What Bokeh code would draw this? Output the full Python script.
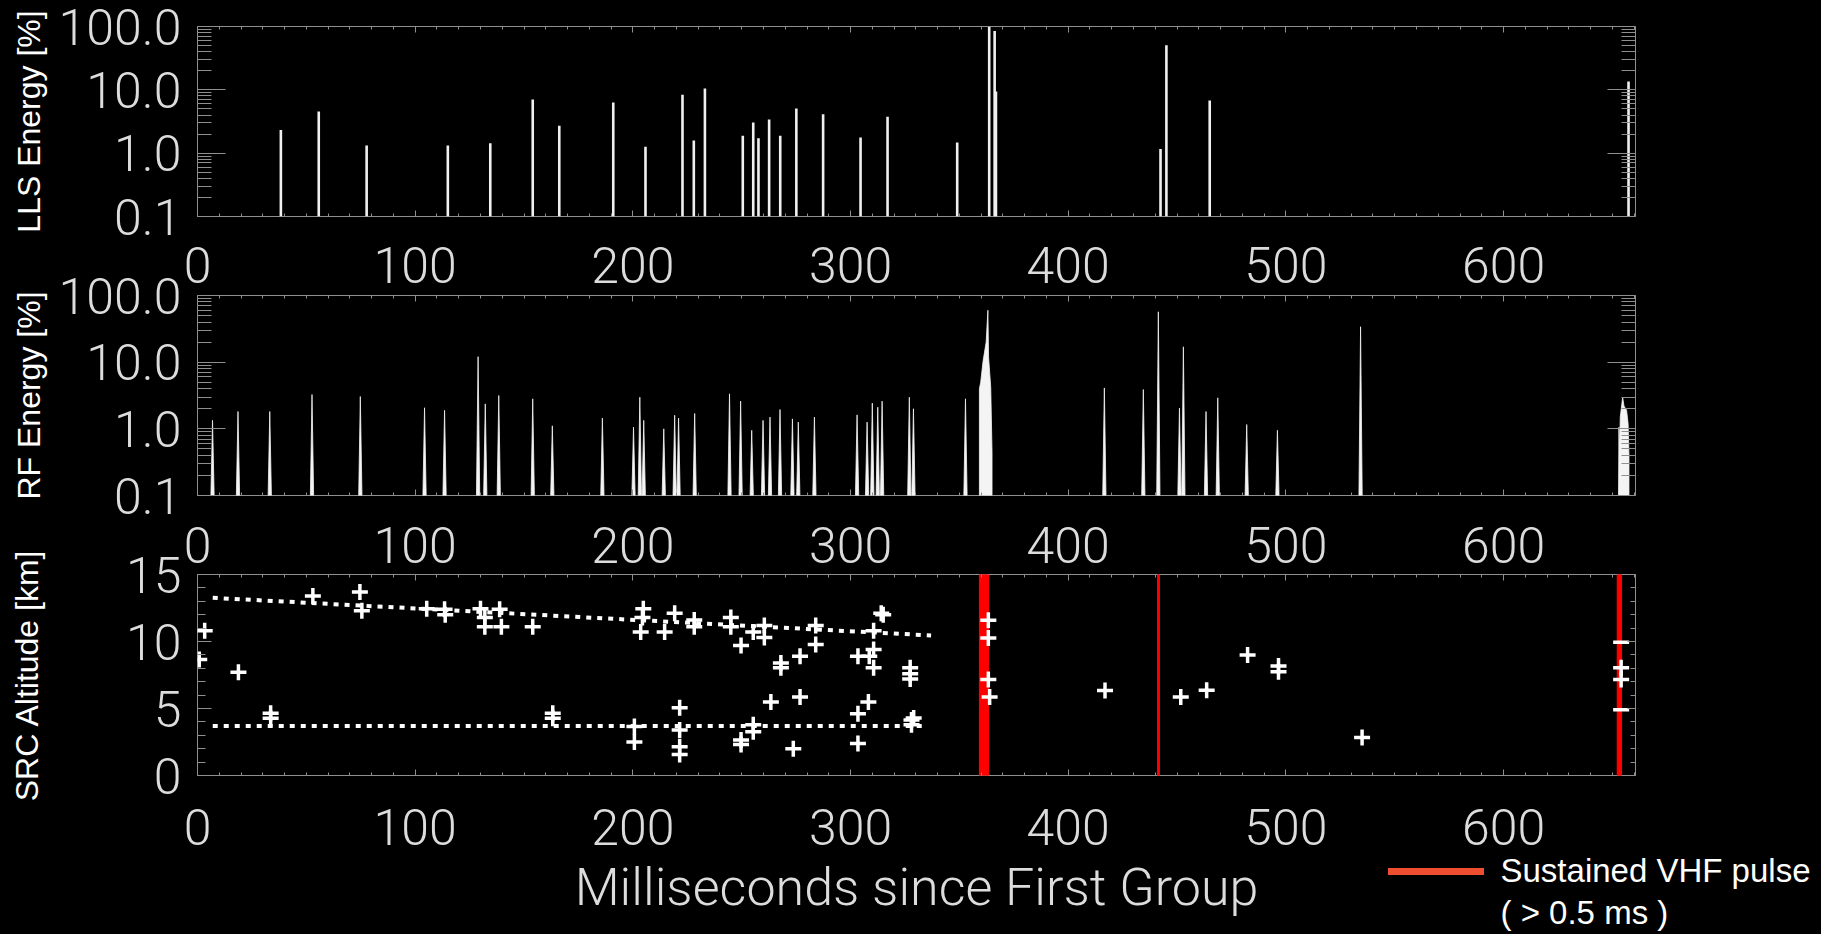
import html
from bokeh.plotting import figure
from bokeh.layouts import column
from bokeh.models import (Range1d, LinearAxis, LogAxis, FixedTicker, BoxAnnotation,
                          CustomJSTickFormatter, GlobalInlineStyleSheet, Div)
from bokeh.embed import file_html
from bokeh.resources import INLINE

# ---------------- data ----------------
x_tick_ms = [0, 100, 200, 300, 400, 500, 600]
energy_ticks = [0.1, 1, 10, 100]
energy_tick_labels = ["0.1", "1.0", "10.0", "100.0"]
alt_ticks = [0, 5, 10, 15]
alt_tick_labels = ["0", "5", "10", "15"]

# LLS energy (% of max) per stroke
lls_ms = [38.3, 55.7, 77.7, 115.0, 134.5, 154.0, 166.2, 191.0, 205.8, 222.8,
          228.0, 233.1, 250.5, 255.3, 257.7, 262.6, 267.7, 275.1, 287.4, 304.6,
          317.0, 349.0, 363.7, 366.2, 366.8, 442.4, 445.1, 465.0, 657.4]
lls_pct = [2.32, 4.56, 1.32, 1.32, 1.43, 7.06, 2.72, 6.3, 1.26, 8.4,
           1.59, 10.5, 1.89, 3.05, 1.72, 3.39, 1.89, 5.06, 4.11, 1.76,
           3.75, 1.48, 99.0, 85.0, 9.4, 1.16, 50.8, 6.8, 13.6]

# RF energy (% of max) per VHF pulse
rf_ms = [6.9, 18.6, 33.2, 52.6, 74.8, 104.3, 113.5, 128.9, 132.2, 138.4,
         154.0, 163.0, 186.0, 200.3, 203.2, 205.0, 214.2, 219.2, 221.0, 228.4,
         244.4, 249.5, 254.6, 259.8, 263.0, 267.6, 273.3, 276.0, 283.4, 303.0,
         307.6, 310.0, 312.5, 314.5, 327.0, 328.9, 352.8, 416.6, 434.5, 441.4,
         451.1, 452.9, 463.3, 468.7, 482.0, 496.1, 534.3]
rf_pct = [1.34, 1.82, 1.82, 3.27, 3.05, 2.07, 1.89, 12.1, 2.37, 3.16,
          2.82, 1.11, 1.45, 1.06, 2.98, 1.34, 1.0, 1.6, 1.45, 1.7,
          3.35, 2.6, 0.95, 1.34, 1.5, 1.95, 1.41, 1.26, 1.5, 1.62,
          1.26, 2.43, 2.11, 2.6, 2.98, 2.0, 2.82, 4.11, 3.89, 57.0,
          2.04, 17.0, 1.82, 2.92, 1.16, 0.95, 34.0]

# sustained RF bursts (envelope)
rf_burst1_ms = [359.2, 359.2, 359.8, 360.9, 362.3, 363.1, 363.4, 364.4, 365.0, 365.0]
rf_burst1_pct = [0.1, 4.0, 5.0, 10.5, 20.0, 60.0, 12.0, 4.2, 0.45, 0.1]
rf_burst2_ms = [652.8, 653.0, 653.3, 653.6, 654.7, 655.3, 656.5, 657.2, 657.6, 657.6]
rf_burst2_pct = [0.1, 1.06, 0.5, 1.5, 2.98, 2.2, 1.9, 1.2, 0.4, 0.1]

# source altitudes
src_ms = [3.3, 0.8, 18.8, 33.6, 33.6, 53.0, 74.6, 75.5, 105.3, 113.5,
          113.8, 130.0, 132.0, 132.0, 138.8, 139.6, 154.0, 163.2, 163.2, 200.7,
          200.7, 204.8, 204.4, 203.6, 214.6, 219.2, 221.5, 221.5, 221.5, 221.5,
          228.2, 228.2, 245.0, 245.0, 249.7, 255.3, 260.4, 260.4, 268.0, 268.0,
          276.8, 284.0, 284.0, 303.4, 308.6, 310.6, 310.6, 310.6, 314.1, 315.0,
          327.4, 327.4, 327.4, 249.7, 249.7, 255.3, 255.3, 263.4, 273.7, 276.8,
          303.4, 303.4, 308.2, 328.0, 328.0, 329.0, 363.3, 363.3, 363.3, 363.9,
          416.9, 451.7, 463.6, 482.4, 496.6, 496.6, 535.0, 654.0, 654.0]
src_km = [10.8, 8.65, 7.7, 4.65, 4.27, 13.4, 13.7, 12.3, 12.45, 12.4,
          12.0, 12.45, 11.8, 11.1, 12.4, 11.1, 11.1, 4.65, 4.27, 3.65,
          2.5, 12.45, 11.8, 10.7, 10.7, 12.1, 5.05, 3.4, 2.14, 1.56,
          11.6, 11.1, 11.8, 11.1, 9.7, 10.7, 11.2, 10.3, 8.4, 8.05,
          8.9, 11.2, 9.77, 8.9, 8.9, 10.8, 9.4, 8.05, 12.1, 12.0,
          8.05, 7.6, 7.2, 2.64, 2.31, 3.78, 3.27, 5.48, 2.0, 5.86,
          4.6, 2.39, 5.48, 4.15, 3.78, 4.3, 11.58, 10.27, 7.17, 5.86,
          6.34, 5.86, 6.37, 8.99, 8.18, 7.75, 2.84, 8.05, 7.17]
src_edge_ms = [654.0, 654.0]
src_edge_km = [9.94, 4.9]

# altitude trend lines
trend_hi_ms = [7.0, 337.0]
trend_hi_km = [13.26, 10.45]
trend_lo_ms = [7.0, 333.0]
trend_lo_km = [3.7, 3.7]

# sustained VHF pulses (> 0.5 ms)
vhf_start_ms = [359.2, 441.0, 652.2]
vhf_end_ms = [363.4, 441.9, 654.2]

legend_texts = ["Sustained VHF pulse", "( > 0.5 ms )"]

# ---------------- style ----------------
BG = "#000000"
AXIS_GRAY = "#8f8f8f"
LABEL_GRAY = "#dcdcdc"
THIN_FONT = "Roboto Light, Lato Light, Roboto"
SANS = "Liberation Sans"
TICK_SIZE = "50px"
W = 1816
X_MAX = 660.6
LEFT, RIGHT = 197, W - 1635

x_minor = list(range(0, 661, 10))
log_minor = [m * 10.0 ** k for k in (-1, 0, 1) for m in range(2, 10)]
alt_minor = list(range(0, 16))
blank = CustomJSTickFormatter(code="return ''")


def base_fig(height, top, bottom, y_range, log, margin):
    p = figure(width=W, height=height, x_range=Range1d(0, X_MAX), y_range=y_range,
               y_axis_type="log" if log else "linear", output_backend="svg",
               toolbar_location=None, min_border_left=LEFT, min_border_right=RIGHT,
               min_border_top=top, min_border_bottom=bottom,
               background_fill_color=BG, border_fill_color=BG, border_fill_alpha=0.0,
               outline_line_color=AXIS_GRAY, outline_line_width=1)
    p.margin = margin
    p.grid.visible = False
    return p


def tick_style(ax, major_in, minor_in):
    ax.axis_line_color = None
    ax.major_tick_line_color = AXIS_GRAY
    ax.minor_tick_line_color = AXIS_GRAY
    ax.major_tick_in = major_in
    ax.major_tick_out = 0
    ax.minor_tick_in = minor_in
    ax.minor_tick_out = 0


def hidden_labels(ax):
    ax.formatter = blank
    ax.major_label_text_font_size = "1px"
    ax.major_label_standoff = 0


def style_x(p, standoff):
    ax = p.xaxis[0]
    ax.ticker = FixedTicker(ticks=x_tick_ms, minor_ticks=x_minor)
    tick_style(ax, 6, 3)
    ax.major_label_text_font = THIN_FONT
    ax.major_label_text_font_size = TICK_SIZE
    ax.major_label_text_color = LABEL_GRAY
    ax.major_label_standoff = standoff
    top = LinearAxis(ticker=FixedTicker(ticks=x_tick_ms, minor_ticks=x_minor))
    tick_style(top, 6, 3)
    hidden_labels(top)
    p.add_layout(top, "above")
    return ax


def style_y(p, ticks, labels, minor, title, title_standoff, major_in, minor_in,
            r_major, r_minor, log):
    ax = p.yaxis[0]
    ax.ticker = FixedTicker(ticks=ticks, minor_ticks=minor)
    ax.major_label_overrides = dict(zip(ticks, labels))
    tick_style(ax, major_in, minor_in)
    ax.major_label_text_font = THIN_FONT
    ax.major_label_text_font_size = TICK_SIZE
    ax.major_label_text_color = LABEL_GRAY
    ax.major_label_standoff = 16
    ax.axis_label = title
    ax.axis_label_text_font = SANS
    ax.axis_label_text_font_size = "32px"
    ax.axis_label_text_font_style = "normal"
    ax.axis_label_text_color = "white"
    ax.axis_label_standoff = title_standoff
    right = (LogAxis if log else LinearAxis)(ticker=FixedTicker(ticks=ticks, minor_ticks=minor))
    tick_style(right, r_major, r_minor)
    hidden_labels(right)
    p.add_layout(right, "right")
    return ax


# ---------------- panel 1: LLS energy ----------------
p1 = base_fig(304, 26, 88, Range1d(energy_ticks[0], energy_ticks[-1]), True, (0, 0, 0, 0))
style_x(p1, 30)
style_y(p1, energy_ticks, energy_tick_labels, log_minor, "LLS Energy [%]", 9, 28, 14, 28, 14, True)
p1.segment(x0=lls_ms, y0=[energy_ticks[0]] * len(lls_ms), x1=lls_ms, y1=lls_pct,
           line_color="#f0f0f0", line_width=2.6)

# ---------------- panel 2: RF energy ----------------
p2 = base_fig(320, 32, 88, Range1d(energy_ticks[0], energy_ticks[-1]), True, (-41, 0, 0, 0))
style_x(p2, 31)
style_y(p2, energy_ticks, energy_tick_labels, log_minor, "RF Energy [%]", 9, 28, 14, 28, 14, True)
SPIKE_HALF = 0.75
rf_xs = [[t - SPIKE_HALF, t, t + SPIKE_HALF] for t in rf_ms]
rf_ys = [[energy_ticks[0], v, energy_ticks[0]] for v in rf_pct]
p2.patches(rf_xs, rf_ys, fill_color="#f4f4f4", line_color="#f4f4f4", line_width=0.8)
p2.patch(rf_burst1_ms, rf_burst1_pct, fill_color="#f4f4f4", line_color="#f4f4f4", line_width=0.8)
p2.patch(rf_burst2_ms, rf_burst2_pct, fill_color="#f4f4f4", line_color="#f4f4f4", line_width=0.8)

# ---------------- panel 3: source altitude ----------------
p3 = base_fig(385, 32, 152, Range1d(alt_ticks[0], alt_ticks[-1]), False, (-41, 0, 0, 0))
ax3 = style_x(p3, 33)
style_y(p3, alt_ticks, alt_tick_labels, alt_minor, "SRC Altitude [km]", 78, 14, 8, 8, 5, False)
ax3.axis_label = "Milliseconds since First Group"
ax3.axis_label_text_font = THIN_FONT
ax3.axis_label_text_font_size = "52px"
ax3.axis_label_text_font_style = "normal"
ax3.axis_label_text_color = LABEL_GRAY
ax3.axis_label_standoff = 9

for s, e in zip(vhf_start_ms, vhf_end_ms):
    p3.add_layout(BoxAnnotation(left=s, right=e, fill_color="#ff0000", fill_alpha=1.0,
                                line_color="#ff0000", line_alpha=1.0, line_width=1,
                                level="underlay"))

p3.line(trend_hi_ms, trend_hi_km, line_color="white", line_width=4, line_dash="5 6")
p3.line(trend_lo_ms, trend_lo_km, line_color="white", line_width=4, line_dash="5 6")
p3.scatter(src_ms, src_km, marker="cross", size=16, line_width=3.5, color="white")
p3.scatter(src_edge_ms, src_edge_km, marker="dash", size=16, line_width=3.5, color="white")

# ---------------- legend (HTML block over the bottom-right corner) ----------------
legend_html = (
    '<div style="position:relative;width:436px;height:84px;'
    "font-family:'Liberation Sans',Arial,sans-serif;font-size:33px;line-height:42px;"
    'color:#ffffff;white-space:nowrap;">'
    '<div style="position:absolute;left:5px;top:20px;width:96px;height:7px;'
    'background:#f04e30;"></div>'
    '<div style="position:absolute;left:117.5px;top:2px;">'
    + "<br>".join(html.escape(t) for t in legend_texts)
    + "</div></div>"
)
legend_div = Div(text=legend_html, width=436, height=84, margin=(-79, 0, 0, 1383))

layout = column(p1, p2, p3, legend_div, spacing=0,
                stylesheets=[GlobalInlineStyleSheet(css="html, body { background-color: #000000; }")])

open("out.html", "w").write(file_html(layout, INLINE))
